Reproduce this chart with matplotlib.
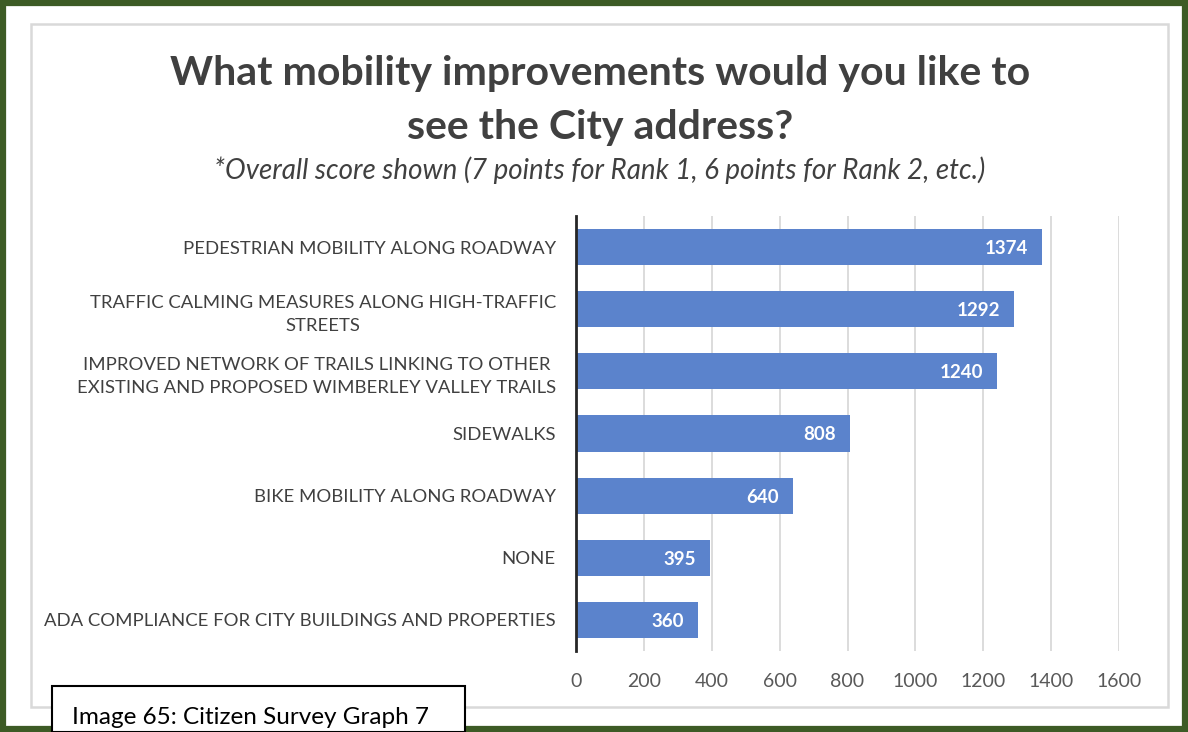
import matplotlib.pyplot as plt
from matplotlib.patches import Rectangle

plt.rcParams['font.family'] = ['Lato', 'DejaVu Sans']

categories = [
    "PEDESTRIAN MOBILITY ALONG ROADWAY",
    "TRAFFIC CALMING MEASURES ALONG HIGH-TRAFFIC\nSTREETS",
    "IMPROVED NETWORK OF TRAILS LINKING TO OTHER\nEXISTING AND PROPOSED WIMBERLEY VALLEY TRAILS",
    "SIDEWALKS",
    "BIKE MOBILITY ALONG ROADWAY",
    "NONE",
    "ADA COMPLIANCE FOR CITY BUILDINGS AND PROPERTIES",
]
scores = [1374, 1292, 1240, 808, 640, 395, 360]
x_ticks = [0, 200, 400, 600, 800, 1000, 1200, 1400, 1600]

bar_color = '#5b83cc'
text_gray = '#595959'

fig = plt.figure(figsize=(11.88, 7.32), dpi=100)
W, H = 1188, 732

# dark green frame and light gray chart border
fig.patches.append(Rectangle((3 / W, 3 / H), 1 - 6 / W, 1 - 6 / H, transform=fig.transFigure,
                             fill=False, edgecolor='#3d5b25', linewidth=4.5))
fig.patches.append(Rectangle((31 / W, 1 - 707 / H), (1168 - 31) / W, (707 - 24) / H,
                             transform=fig.transFigure, fill=False,
                             edgecolor='#d9d9d9', linewidth=1.8))

ax = fig.add_axes([576 / W, 1 - 651 / H, (1119 - 576) / W, (651 - 216) / H])
y = list(range(len(categories)))
bars = ax.barh(y, scores, height=0.58, color=bar_color, zorder=3)
ax.set_ylim(len(categories) - 0.5, -0.5)
ax.set_xlim(0, 1600)

for yi, v in zip(y, scores):
    ax.annotate(str(v), (v, yi), xytext=(-10, -1), textcoords='offset points',
                ha='right', va='center', color='white', fontsize=13.5, fontweight='bold')

ax.set_yticks(y)
ax.set_yticklabels(categories, fontsize=13.3, color='#404040',
                   multialignment='center', linespacing=1.55)
ax.set_xticks(x_ticks)
ax.set_xticklabels([str(t) for t in x_ticks], fontsize=14, color=text_gray)
ax.tick_params(axis='y', length=0, pad=14.5)
ax.tick_params(axis='x', length=0, pad=16)
ax.grid(axis='x', color='#d9d9d9', linewidth=1.3, zorder=0)
for s in ['top', 'right', 'bottom']:
    ax.spines[s].set_visible(False)
ax.spines['left'].set_color('#262626')
ax.spines['left'].set_linewidth(2)
ax.spines['left'].set_zorder(4)

fig.text(600 / W, 1 - 73 / H, "What mobility improvements would you like to",
         ha='center', va='center', fontsize=29.5, fontweight='bold', color='#404040')
fig.text(600 / W, 1 - 127 / H, "see the City address?",
         ha='center', va='center', fontsize=29.5, fontweight='bold', color='#404040')
fig.text(600 / W, 1 - 170 / H,
         "*Overall score shown (7 points for Rank 1, 6 points for Rank 2, etc.)",
         ha='center', va='center', fontsize=20, style='italic', color='#404040')

# caption box
fig.patches.append(Rectangle((52 / W, 0), (465 - 52) / W, (732 - 686) / H,
                             transform=fig.transFigure, facecolor='white',
                             edgecolor='black', linewidth=1.5, zorder=5))
fig.text(72 / W, 1 - 717 / H, "Image 65: Citizen Survey Graph 7",
         ha='left', va='center', fontsize=17.5, color='black', zorder=6)

plt.savefig("out.png", dpi=100)
